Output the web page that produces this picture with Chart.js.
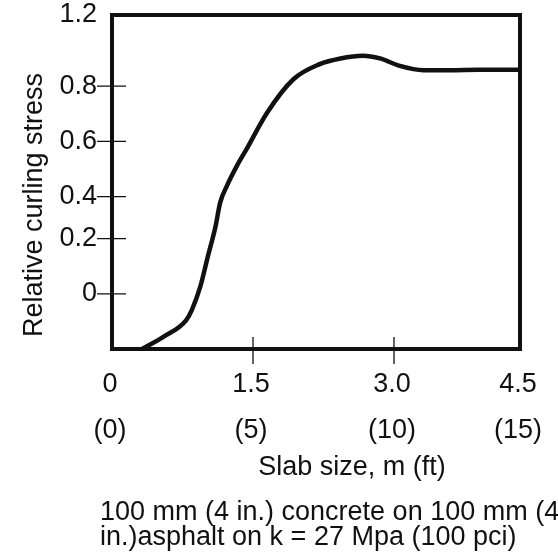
<!DOCTYPE html>
<html>
<head>
<meta charset="utf-8">
<script src="https://cdn.jsdelivr.net/npm/chart.js@4"></script>
<style>
  html, body { margin: 0; padding: 0; background: #fff; }
  #wrap { width: 558px; height: 557px; position: relative; }
</style>
</head>
<body>
<div id="wrap"><canvas id="curl_chart"></canvas></div>
<script>

// slab size (m) and relative curling stress
const slabSize   = [0.32, 0.55, 0.79, 0.85, 0.94, 1.02, 1.10, 1.15, 1.22, 1.33, 1.43, 1.65, 1.93, 2.21, 2.43, 2.67, 2.85, 3.07, 3.35, 3.66, 4.02, 4.5];
const curlStress = [-0.2, -0.155, -0.095, -0.058, 0.027, 0.136, 0.255, 0.37, 0.437, 0.512, 0.571, 0.704, 0.839, 0.924, 0.956, 0.971, 0.956, 0.914, 0.89, 0.89, 0.892, 0.892];

const xTicks = [0, 1.5, 3.0, 4.5];
const xTickLabels = ['0', '1.5', '3.0', '4.5'];
const xTickLabelsFt = ['(0)', '(5)', '(10)', '(15)'];
const yTicks = [0, 0.2, 0.4, 0.6, 0.8, 1.2];
const yTickLabels = ['0', '0.2', '0.4', '0.6', '0.8', '1.2'];

const xTitle = 'Slab size, m (ft)';
const yTitle = 'Relative curling stress';
const captionLines = ['100 mm (4 in.) concrete on 100 mm (4', 'in.)asphalt on k = 27 Mpa (100 pci)'];

// the printed axes are not evenly spaced: stops and relative gaps between them
const xStops = [0, 1.5, 3.0, 4.5];
const xGaps  = [141, 141, 126];
const yStops = [-0.2, 0, 0.2, 0.4, 0.6, 0.8, 1.2];
const yGaps  = [55, 55, 42, 55, 55, 71];

const FONT = '"Liberation Sans", Arial, Helvetica, sans-serif';
const INK = '#111';

///////////////////
const stopTable = { x: [xStops, xGaps], y: [yStops, yGaps] };

class StopScale extends Chart.LinearScale {
  getPixelForValue(value) {
    const [vals, gaps] = stopTable[this.axis];
    const total = gaps.reduce((a, b) => a + b, 0);
    let acc = 0;
    for (let i = 0; i < gaps.length; i++) {
      if (value <= vals[i + 1] || i === gaps.length - 1) {
        const t = (value - vals[i]) / (vals[i + 1] - vals[i]);
        return this.getPixelForDecimal((acc + t * gaps[i]) / total);
      }
      acc += gaps[i];
    }
  }
  getValueForPixel(pixel) {
    const [vals, gaps] = stopTable[this.axis];
    const total = gaps.reduce((a, b) => a + b, 0);
    const d = this.getDecimalForPixel(pixel) * total;
    let acc = 0;
    for (let i = 0; i < gaps.length; i++) {
      if (d <= acc + gaps[i] || i === gaps.length - 1) {
        return vals[i] + (d - acc) / gaps[i] * (vals[i + 1] - vals[i]);
      }
      acc += gaps[i];
    }
  }
}
StopScale.id = 'stops';
StopScale.defaults = Chart.LinearScale.defaults;
Chart.register(StopScale);

// frame, ticks crossing the frame, axis titles and caption
const framePlugin = {
  id: 'frame',
  afterDraw(chart) {
    const { ctx, chartArea: a, scales: { x, y } } = chart;
    ctx.save();
    ctx.strokeStyle = INK;
    ctx.lineWidth = 1.3;
    ctx.beginPath();
    xTicks.forEach(v => {
      if (v > x.min && v < x.max) {
        const px = x.getPixelForValue(v);
        ctx.moveTo(px, a.bottom - 12);
        ctx.lineTo(px, a.bottom + 15);
      }
    });
    yTicks.forEach(v => {
      if (v > y.min && v < y.max) {
        const py = y.getPixelForValue(v);
        ctx.moveTo(a.left - 15, py);
        ctx.lineTo(a.left + 14, py);
      }
    });
    ctx.stroke();

    ctx.lineWidth = 4;
    ctx.strokeRect(a.left, a.top, a.right - a.left, a.bottom - a.top);

    ctx.fillStyle = INK;
    ctx.font = '27px ' + FONT;
    ctx.textBaseline = 'alphabetic';
    ctx.textAlign = 'center';
    ctx.fillText(xTitle, a.left + 240, a.bottom + 126);

    ctx.save();
    ctx.translate(a.left - 70, a.top + 190);
    ctx.rotate(-Math.PI / 2);
    ctx.fillText(yTitle, 0, 0);
    ctx.restore();

    ctx.textAlign = 'left';
    captionLines.forEach((line, i) => ctx.fillText(line, a.left - 12, a.bottom + 171 + i * 25));
    ctx.restore();
  }
};

const config = {
  type: 'line',
  data: {
    datasets: [{
      data: slabSize.map((s, i) => ({ x: s, y: curlStress[i] })),
      borderColor: INK,
      borderWidth: 4.5,
      pointRadius: 0,
      fill: false,
      cubicInterpolationMode: 'monotone',
    }]
  },
  options: {
    responsive: true,
    maintainAspectRatio: false,
    animation: false,
    layout: { padding: { top: 15, right: 38, left: 0, bottom: 0 } },
    plugins: {
      legend: { display: false },
      tooltip: { enabled: false },
    },
    scales: {
      x: {
        type: 'stops', min: 0, max: 4.5,
        grid: { display: false, drawTicks: true, tickLength: 13 },
        border: { display: false },
        afterBuildTicks: s => { s.ticks = xTicks.map(v => ({ value: v })); },
        afterFit: s => { s.height = 208; },
        ticks: {
          autoSkip: false, maxRotation: 0, padding: 0, labelOffset: -2, color: INK,
          font: { family: FONT, size: 27, lineHeight: 1.7 },
          callback: (val, index) => [xTickLabels[index], xTickLabelsFt[index]],
        },
      },
      y: {
        type: 'stops', min: -0.2, max: 1.2,
        grid: { display: false, drawTicks: true, tickLength: 15 },
        border: { display: false },
        afterBuildTicks: s => { s.ticks = yTicks.map(v => ({ value: v })); },
        afterFit: s => { s.width = 112; },
        ticks: {
          autoSkip: false, padding: 0, color: INK,
          font: { family: FONT, size: 27, lineHeight: 1 },
          callback: (val, index) => yTickLabels[index],
        },
      },
    },
  },
  plugins: [framePlugin],
};

const ctx = document.getElementById('curl_chart').getContext('2d');
var myChart = new Chart(ctx, config);
</script>
</body>
</html>
